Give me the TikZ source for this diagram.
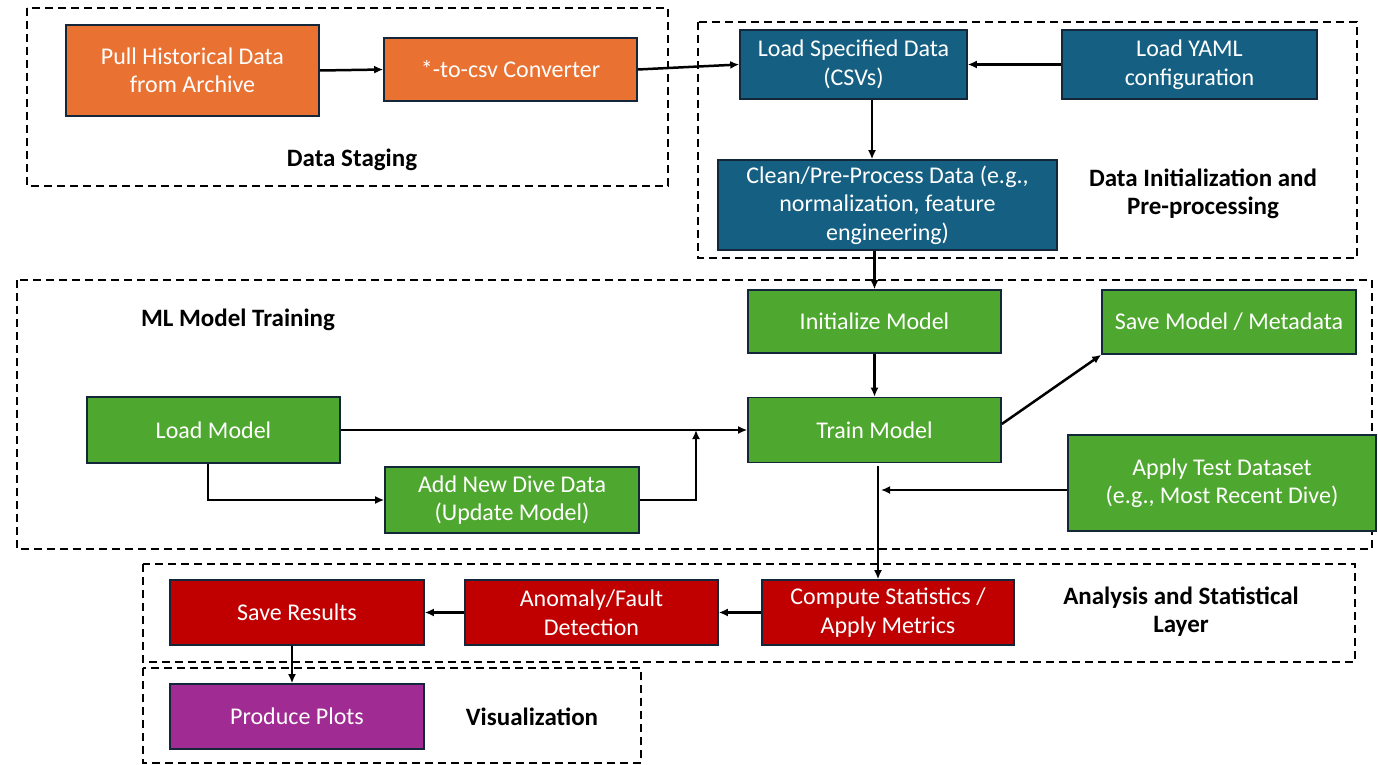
\documentclass[tikz,border=0pt]{standalone}
\usepackage{fontspec}
\setmainfont{Carlito}
\usetikzlibrary{arrows.meta,calc}
\definecolor{orangeF}{HTML}{E97132}
\definecolor{blueF}{HTML}{156082}
\definecolor{greenF}{HTML}{4EA72E}
\definecolor{redF}{HTML}{C00000}
\definecolor{purpleF}{HTML}{A02B93}
\definecolor{edgeC}{HTML}{13263A}
\begin{document}
\begin{tikzpicture}[x=1pt,y=-1pt,
  box/.style={draw=edgeC,line width=1.6pt,text=white,align=center,inner sep=0pt,
    font=\fontsize{24}{28.5}\selectfont},
  obox/.style={box,fill=orangeF},
  bbox/.style={box,fill=blueF},
  gbox/.style={box,fill=greenF},
  rbox/.style={box,fill=redF},
  pbox/.style={box,fill=purpleF},
  group/.style={draw=black,line width=2pt,dash pattern=on 8pt off 5pt},
  lbl/.style={font=\fontsize{25}{28}\selectfont\bfseries,align=center,inner sep=0pt},
  arr/.style={draw=black,line width=2.5pt,-{Latex[length=9pt,width=8pt]}}]
\useasboundingbox (0,0) rectangle (1378,765);
% groups
\draw[group] (27,8) rectangle (668,186);
\draw[group] (698,22) rectangle (1357,258);
\draw[group] (17,280) rectangle (1372,549);
\draw[group] (143,564) rectangle (1355,662);
\draw[group] (143,668) rectangle (641,763);
% labels
\node[lbl] (lds) at (352,160) {Data Staging};
\node[lbl] (ldi) at (1203,194) {Data Initialization and\\Pre-processing};
\node[lbl] (lml) at (238,320) {ML Model Training};
\node[lbl] (lan) at (1181,612) {Analysis and Statistical\\Layer};
\node[lbl] (lvi) at (532,717) {Visualization};
% nodes
\node[obox,minimum width=253,minimum height=91] (pull) at (192.5,70.5) {Pull Historical Data\\from Archive};
\node[obox,minimum width=253,minimum height=63] (conv) at (510.5,69.5) {*-to-csv Converter};
\node[bbox,minimum width=227,minimum height=69] (loadspec) at (853.5,64.5) {Load Specified Data\\(CSVs)};
\node[bbox,minimum width=255,minimum height=69] (yaml) at (1189.5,64.5) {Load YAML\\configuration};
\node[bbox,minimum width=339,minimum height=90] (clean) at (887.5,205) {Clean/Pre-Process Data (e.g.,\\normalization, feature\\engineering)};
\node[gbox,minimum width=253,minimum height=63] (init) at (874.5,321.5) {Initialize Model};
\node[gbox,minimum width=253,minimum height=65] (train) at (874.5,430) {Train Model};
\node[gbox,minimum width=254,minimum height=64] (save) at (1229,322) {Save Model / Metadata};
\node[gbox,minimum width=308,minimum height=96] (apply) at (1222,483) {Apply Test Dataset\\(e.g., Most Recent Dive)};
\node[gbox,minimum width=253,minimum height=66] (loadm) at (213.5,430) {Load Model};
\node[gbox,minimum width=254,minimum height=66] (addnew) at (512,500) {Add New Dive Data\\(Update Model)};
\node[rbox,minimum width=254,minimum height=65] (saveres) at (297,612.5) {Save Results};
\node[rbox,minimum width=253,minimum height=65] (anom) at (591.5,612.5) {Anomaly/Fault\\Detection};
\node[rbox,minimum width=252,minimum height=65] (comp) at (888,612.5) {Compute Statistics /\\Apply Metrics};
\node[pbox,minimum width=254,minimum height=65] (plots) at (297,716.5) {Produce Plots};
% helper coordinates
\coordinate (join) at (696,430);
\coordinate (trunk) at (878,466);
\coordinate (tapin) at (881,490);
% connectors
\draw[arr] (pull.east) -- (conv.west);
\draw[arr] (conv.east) -- (loadspec.west);
\draw[arr] (yaml.west) -- (loadspec.east);
\draw[arr] ([xshift=18.5pt]loadspec.south) -- ([xshift=18.5pt]loadspec.south |- clean.north);
\draw[arr] (init.north |- clean.south) -- (init.north);
\draw[arr] (init.south) -- (train.north);
\draw[arr] ([yshift=6pt]train.east) -- (save.south west);
\draw[arr] (loadm.east) -- (train.west);
\draw[arr] (addnew.east) -| (join);
\draw[arr] ([xshift=-5.5pt]loadm.south) |- (addnew.west);
\draw[arr] (trunk) -- (trunk |- comp.north);
\draw[arr] (apply.west |- tapin) -- (tapin);
\draw[arr] (comp.west) -- (anom.east);
\draw[arr] (anom.west) -- (saveres.east);
\draw[arr] ([xshift=-5pt]saveres.south) -- ([xshift=-5pt]plots.north);
\end{tikzpicture}
\end{document}
